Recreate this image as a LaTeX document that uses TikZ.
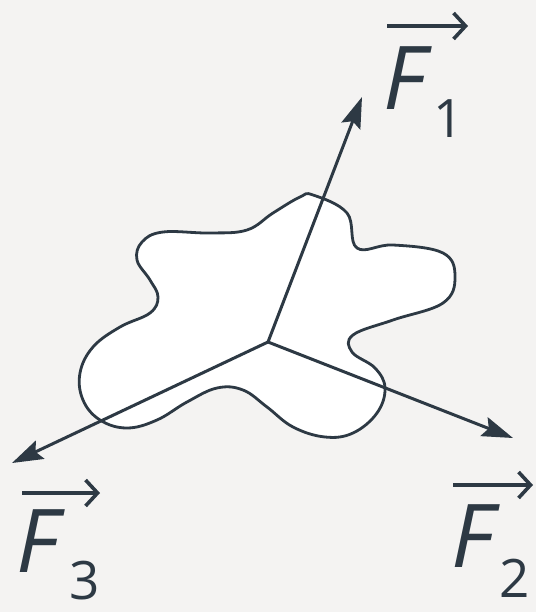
\documentclass[tikz,border=0pt]{standalone}
\usepackage{fontspec}
\setmainfont{Open Sans}
\usepackage{xcolor}
\usetikzlibrary{arrows.meta}
\definecolor{ink}{HTML}{2D3944}
\definecolor{paper}{HTML}{F4F3F2}
\tikzset{
  force/.style={ink,line width=3pt,-{Stealth[length=31pt,width=20pt,inset=5pt]}},
  overarrow/.style={ink,line width=3.6pt,-{Straight Barb[length=12pt,width=26pt,line width=3.6pt]}},
  bigF/.style={ink,inner sep=0pt,anchor=base west,font=\fontsize{88}{88}\selectfont\itshape},
  subidx/.style={ink,inner sep=0pt,anchor=base west,font=\fontsize{53}{53}\selectfont}
}
\begin{document}
\begin{tikzpicture}[x=1pt,y=-1pt]
\useasboundingbox[fill=paper] (0,0) rectangle (536,612);
% the body
\draw[ink,line width=2.8pt,fill=white] plot[smooth cycle,tension=0.65] coordinates {
  (313,195) (347,213) (357,248) (393,245) (443,253) (455,277) (443,303)
  (393,320) (353,335) (352,352) (375,368) (385,388) (377,413) (353,433)
  (325,437) (293,427) (267,407) (243,390) (217,388) (187,402) (157,420)
  (127,428) (100,420) (83,400) (80,373) (93,347) (120,327) (150,313)
  (158,297) (150,280) (137,260) (142,242) (163,232) (210,233) (247,230)
  (273,213) (300,197)};
% forces
\coordinate (c) at (268,342);
\coordinate (t1) at (362,97);
\coordinate (t2) at (513,438);
\coordinate (t3) at (12,463);
\draw[force] (c) -- (t1);
\draw[force] (c) -- (t2);
\draw[force] (c) -- (t3);
% labels
\node[bigF] (f1) at (383,110) {F};
\node[subidx] (s1) at (433,138) {1};
\coordinate (v1a) at (387,26);
\coordinate (v1b) at (468,26);
\draw[overarrow] (v1a) -- (v1b);
\node[bigF] (f2) at (451,567) {F};
\node[subidx] (s2) at (499,597) {2};
\coordinate (v2a) at (453,485);
\coordinate (v2b) at (533,485);
\draw[overarrow] (v2a) -- (v2b);
\node[bigF] (f3) at (16,572) {F};
\node[subidx] (s3) at (69,599) {3};
\coordinate (v3a) at (22,493);
\coordinate (v3b) at (100,493);
\draw[overarrow] (v3a) -- (v3b);
\end{tikzpicture}
\end{document}
